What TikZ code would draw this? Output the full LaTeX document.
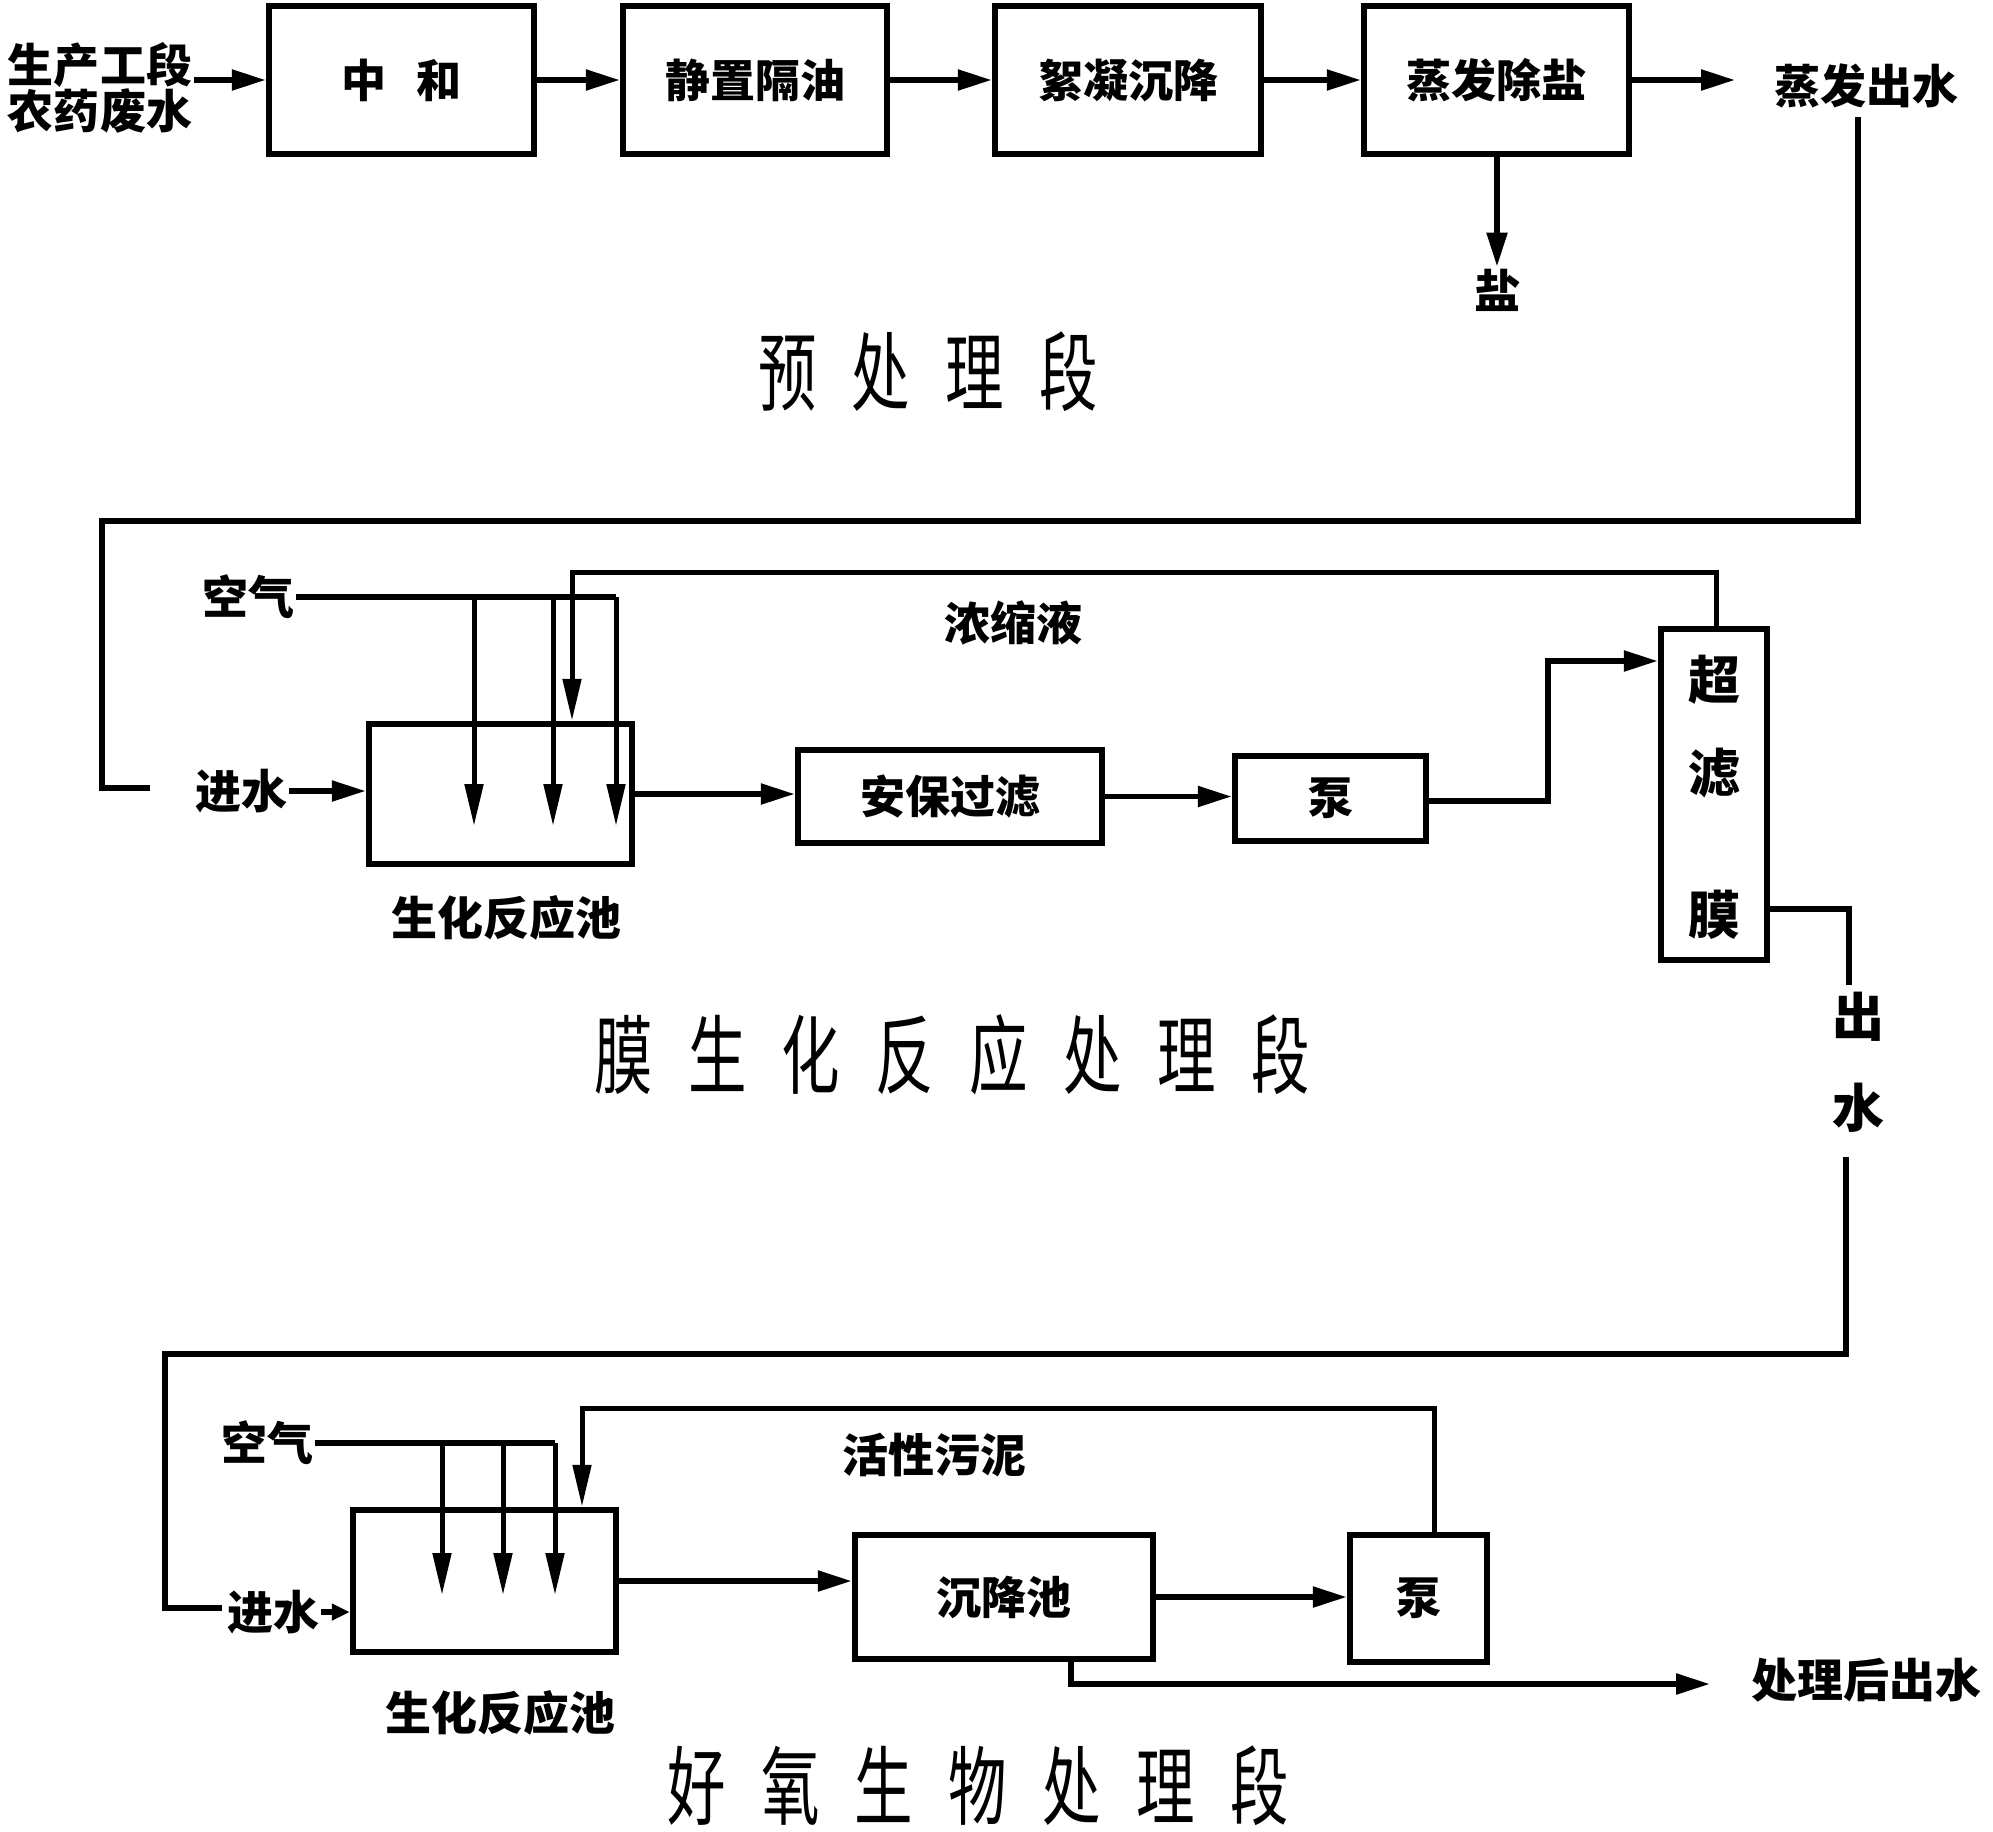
\documentclass[tikz,border=0pt]{standalone}
\usepackage{fontspec}
\setmainfont{Noto Sans CJK SC}
\usetikzlibrary{arrows.meta}
\newcommand\tgap{\hspace{52pt}}
\begin{document}
\begin{tikzpicture}[x=1pt,y=-1pt,
  box/.style={draw, line width=6.5pt, inner sep=0pt, font=\fontsize{45}{48}\selectfont\bfseries},
  lbl/.style={inner sep=2pt, font=\fontsize{46}{46}\selectfont\bfseries},
  big/.style={inner sep=2pt, font=\fontsize{52}{52}\selectfont\bfseries},
  ttl/.style={inner sep=0pt, font=\fontsize{86}{90}\selectfont, xscale=0.68},
  ln/.style={line width=5.5pt},
  arr/.style={ln, -{Triangle[length=34pt,width=20pt]}},
  sarr/.style={ln, -{Triangle[length=18pt,width=16pt]}},
  darr/.style={line width=5pt, -{Triangle[length=42pt,width=18pt]}}]
\useasboundingbox (0,0) rectangle (1993,1831);

% ---------- pretreatment ----------
\node[lbl, align=center] (src) at (100,88) {生产工段\\农药废水};
\node[box, minimum width=265pt, minimum height=148pt] (zh) at (401.5,80) {中\hspace{30pt}和};
\node[box, minimum width=264pt, minimum height=148pt] (jz) at (755,80) {静置隔油};
\node[box, minimum width=266pt, minimum height=148pt] (xn) at (1128,80) {絮凝沉降};
\node[box, minimum width=265pt, minimum height=148pt] (zf) at (1496.5,80) {蒸发除盐};
\node[lbl] (zfout) at (1866,86) {蒸发出水};
\node[lbl] (salt) at (1497,290) {盐};
\coordinate (zfa) at (1735,80);

\draw[arr] (src.east |- zh.west) -- (zh.west);
\draw[arr] (zh.east) -- (jz.west);
\draw[arr] (jz.east) -- (xn.west);
\draw[arr] (xn.east) -- (zf.west);
\draw[arr] (zf.east) -- (zfa);
\draw[arr] (zf.south -| salt) -- (salt.north);

\node[ttl] (t1) at (928,372) {预\tgap 处\tgap 理\tgap 段};

% ---------- membrane bioreactor ----------
\coordinate (a0) at (1858,117);
\coordinate (a1) at (1858,521);
\coordinate (a2) at (102,521);
\coordinate (a3) at (102,788);
\coordinate (a4) at (150,788);
\draw[ln] (a0) -- (a1) -- (a2) -- (a3) -- (a4);

\node[box, minimum width=263pt, minimum height=140pt] (bio1) at (500.5,794) {};
\node[lbl] (bio1l) at (506,918) {生化反应池};
\node[lbl] (kq1) at (248,597) {空气};
\node[lbl] (jin1) at (241,791) {进水};
\node[lbl] (nsy) at (1013,623) {浓缩液};
\node[box, minimum width=304pt, minimum height=93pt] (ab) at (950,796.5) {安保过滤};
\node[box, minimum width=191pt, minimum height=85pt] (pump1) at (1330.5,798.5) {泵};
\node[box, minimum width=106pt, minimum height=331pt] (uf) at (1714,794.5) {};
\node[big] (uf1) at (1714,680) {超};
\node[big] (uf2) at (1714,773) {滤};
\node[big] (uf3) at (1714,915) {膜};

\draw[arr] (jin1.east) -- (jin1.east -| bio1.west);
\coordinate (air1) at (616,597);
\coordinate (d1) at (474,826);
\coordinate (d2) at (553,826);
\coordinate (d3) at (616,826);
\draw[ln] (kq1.east) -- (air1);
\draw[darr] (kq1.east -| d1) -- (d1);
\draw[darr] (kq1.east -| d2) -- (d2);
\draw[darr] (air1) -- (d3);

\coordinate (r1a) at (1716,572);
\coordinate (r1b) at (572,572);
\draw[darr] (uf.north -| r1a) -- (r1a) -- (r1b) -- (r1b |- bio1.north);

\draw[arr] (bio1.east) -- (bio1.east -| ab.west);
\draw[arr] (ab.east) -- (ab.east -| pump1.west);
\coordinate (b1) at (1548,801);
\coordinate (b2) at (1548,661);
\draw[arr] (pump1.east |- b1) -- (b1) -- (b2) -- (b2 -| uf.west);

\coordinate (o1) at (1849,909);
\coordinate (o2) at (1849,985);
\draw[ln] (uf.east |- o1) -- (o1) -- (o2);
\node[big] (chu) at (1858,1017) {出};
\node[big] (shui) at (1858,1108) {水};

\node[ttl] (t2) at (952,1055) {膜\tgap 生\tgap 化\tgap 反\tgap 应\tgap 处\tgap 理\tgap 段};

% ---------- aerobic ----------
\coordinate (e0) at (1846,1157);
\coordinate (e1) at (1846,1354);
\coordinate (e2) at (165,1354);
\coordinate (e3) at (165,1608);
\coordinate (e4) at (222,1608);
\draw[ln] (e0) -- (e1) -- (e2) -- (e3) -- (e4);

\node[box, minimum width=263pt, minimum height=142pt] (bio2) at (484.5,1581) {};
\node[lbl] (bio2l) at (500,1713) {生化反应池};
\node[lbl] (kq2) at (267,1443) {空气};
\node[lbl] (jin2) at (273,1612) {进水};
\node[lbl] (hxwn) at (934,1455) {活性污泥};
\node[box, minimum width=298pt, minimum height=124pt] (sed) at (1004,1597) {沉降池};
\node[box, minimum width=137pt, minimum height=127pt] (pump2) at (1418.5,1598.5) {泵};
\node[lbl] (clout) at (1866,1680) {处理后出水};

\draw[sarr] (jin2.east) -- (jin2.east -| bio2.west);
\coordinate (air2) at (555,1443);
\coordinate (f1) at (442,1595);
\coordinate (f2) at (503,1595);
\coordinate (f3) at (555,1595);
\draw[ln] (kq2.east) -- (air2);
\draw[darr] (kq2.east -| f1) -- (f1);
\draw[darr] (kq2.east -| f2) -- (f2);
\draw[darr] (air2) -- (f3);

\coordinate (g1) at (1434,1408);
\coordinate (g2) at (582,1408);
\draw[darr] (pump2.north -| g1) -- (g1) -- (g2) -- (g2 |- bio2.north);

\draw[arr] (bio2.east) -- (bio2.east -| sed.west);
\draw[arr] (sed.east) -- (sed.east -| pump2.west);
\coordinate (h1) at (1071,1684);
\coordinate (h2) at (1710,1684);
\draw[arr] (sed.south -| h1) -- (h1) -- (h2);

\node[ttl] (t3) at (978,1786) {好\tgap 氧\tgap 生\tgap 物\tgap 处\tgap 理\tgap 段};
\end{tikzpicture}
\end{document}
